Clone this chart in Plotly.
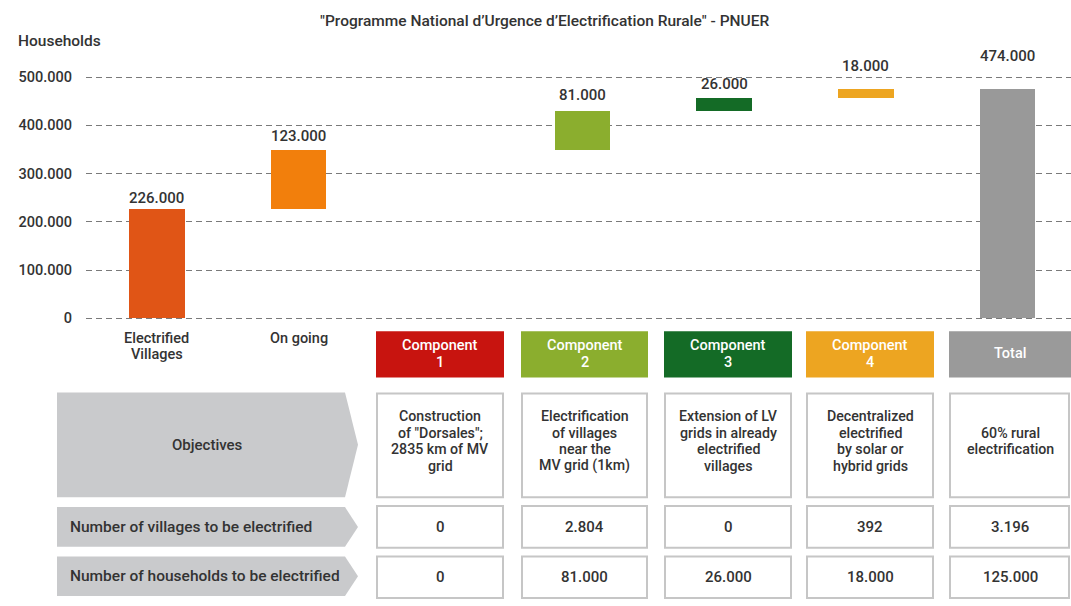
import plotly.graph_objects as go

# ---------------- data ----------------
categories = ["Electrified Villages", "On going", "Component 1", "Component 2",
              "Component 3", "Component 4", "Total"]
category_labels = ["Electrified<br>Villages", "On going", "", "", "", "", ""]
household_values = [226000, 123000, 0, 81000, 26000, 18000, 474000]
is_total = [False, False, False, False, False, False, True]
y_ticks = [0, 100000, 200000, 300000, 400000, 500000]

header_labels = ["Component<br>1", "Component<br>2", "Component<br>3", "Component<br>4", "Total"]
objectives = [
    "Construction<br>of \"Dorsales\";<br>2835 km of MV<br>grid",
    "Electrification<br>of villages<br>near the<br>MV grid (1km)",
    "Extension of LV<br>grids in already<br>electrified<br>villages",
    "Decentralized<br>electrified<br>by solar or<br>hybrid grids",
    "60% rural<br>electrification",
]
villages_to_electrify = ["0", "2.804", "0", "392", "3.196"]
households_to_electrify = ["0", "81.000", "26.000", "18.000", "125.000"]
row_labels = ["Objectives", "Number of villages to be electrified",
              "Number of households to be electrified"]

# ---------------- style ----------------
W, H = 1071, 606
bar_colors = ["#E05516", "#F27F0C", "#C8140F", "#8BAE2E", "#146B26", "#EDA521", "#999999"]
header_colors = ["#C8140F", "#8BAE2E", "#146B26", "#EDA521", "#9A9A9A"]
label_shift = [11, 14, 0, 16, 14, 24, 34]
txt = "#333333"
FONT = "Roboto"
LINE_H = 16.8


def X(px):
    return px / W


def Y(py):
    return 1 - py / H


annotations = []


def multiline(text, cx, cy, size, color, xref="paper", xanchor="center", top=None):
    """Place each line as its own annotation so line spacing is tighter than default."""
    lines = text.split("<br>")
    n = len(lines)
    for k, line in enumerate(lines):
        if top is None:
            py = cy + (k - (n - 1) / 2) * LINE_H
        else:
            py = top + k * LINE_H
        annotations.append(dict(
            x=cx, y=Y(py), xref=xref, yref="paper", text=line,
            showarrow=False, xanchor=xanchor, yanchor="middle", borderpad=0,
            font=dict(family=FONT, size=size, color=color, weight=500),
        ))


# waterfall bases computed from the values
bases = []
running = 0
for v, tot in zip(household_values, is_total):
    if tot:
        bases.append(0)
    else:
        bases.append(running)
        running += v

fig = go.Figure()
fig.add_trace(go.Bar(
    x=categories,
    y=household_values,
    base=bases,
    width=0.39,
    marker=dict(color=bar_colors, line=dict(width=0)),
    hoverinfo="skip",
))

for i, (c, v, b) in enumerate(zip(categories, household_values, bases)):
    if v == 0:
        continue
    annotations.append(dict(
        x=c, y=b + v, xref="x", yref="y", text=f"{v:,}".replace(",", "."),
        showarrow=False, yanchor="middle", yshift=label_shift[i],
        font=dict(family=FONT, size=15, color=txt, weight=500),
    ))

# category labels under the axis
for c, lab in zip(categories, category_labels):
    if lab:
        multiline(lab, c, None, 14.5, txt, xref="x", top=339)

# title and axis title
annotations.append(dict(
    x=X(544), y=Y(18), xref="paper", yref="paper",
    text="\"Programme National d’Urgence d’Electrification Rurale\" - PNUER",
    showarrow=False, xanchor="center", yanchor="middle",
    font=dict(family=FONT, size=15.5, color=txt, weight=500),
))
annotations.append(dict(
    x=X(16), y=Y(38), xref="paper", yref="paper", text="Households",
    showarrow=False, xanchor="left", yanchor="middle",
    font=dict(family=FONT, size=15.5, color=txt, weight=500),
))

shapes = []
col_x = [(376, 504), (521, 648), (664, 792), (806, 934), (949, 1071)]
# header boxes
for (x0, x1), col, lab in zip(col_x, header_colors, header_labels):
    shapes.append(dict(type="rect", xref="paper", yref="paper",
                       x0=X(x0), x1=X(x1), y0=Y(379), y1=Y(332),
                       fillcolor=col, line=dict(width=0), layer="above"))
    multiline(lab, X((x0 + x1) / 2), 355, 14.5, "white")

rows_y = [(394, 501), (508, 552), (559, 603)]
arrow_y = [(394, 500), (510, 550), (560, 600)]
row_text_y = [443, 530, 581]
row_values = [objectives, villages_to_electrify, households_to_electrify]

for r, ((y0, y1), (ay0, ay1), ty, vals) in enumerate(zip(rows_y, arrow_y, row_text_y, row_values)):
    mid = (ay0 + ay1) / 2
    path = (f"M {X(57)},{Y(ay0)} L {X(345)},{Y(ay0)} L {X(358)},{Y(mid)} "
            f"L {X(345)},{Y(ay1)} L {X(57)},{Y(ay1)} Z")
    shapes.append(dict(type="path", xref="paper", yref="paper", path=path,
                       fillcolor="#C9CACC", line=dict(width=0)))
    if r == 0:
        multiline(row_labels[r], X(207), mid, 15, txt)
    else:
        multiline(row_labels[r], X(69), mid, 15.5, txt, xanchor="left")
    for (x0, x1), v in zip(col_x, vals):
        shapes.append(dict(type="rect", xref="paper", yref="paper",
                           x0=X(x0 + 1), x1=X(min(x1, W - 1) - 1), y0=Y(y1 - 1), y1=Y(y0 + 1),
                           fillcolor="white", line=dict(color="#C6C6C6", width=2)))
        multiline(v, X((x0 + x1) / 2), ty, 14.2 if r == 0 else 15, txt)

# y axis: 0 at 319 px, 500.000 at 75 px; range padded so edge gridlines show
pad = 10000
ppu = (319 - 75) / 500000
fig.update_layout(
    width=W, height=H, autosize=False,
    margin=dict(l=0, r=0, t=0, b=0),
    paper_bgcolor="white", plot_bgcolor="white",
    separators=",.",
    showlegend=False,
    bargap=0,
    xaxis=dict(
        domain=[X(86), 1], range=[-0.5, 6.446],
        showticklabels=False,
        showgrid=False, zeroline=False, showline=False, ticks="",
    ),
    yaxis=dict(
        domain=[Y(319 + pad * ppu), Y(75 - pad * ppu)], range=[-pad, 500000 + pad],
        tickvals=y_ticks, tickformat=",d",
        showgrid=True, gridcolor="#7A7A7A", gridwidth=1, griddash="6px,4px",
        zeroline=False, showline=False, ticks="",
        ticklabelstandoff=13,
        tickfont=dict(family=FONT, size=14.5, color=txt, weight=500),
    ),
    shapes=shapes,
    annotations=annotations,
)

fig.write_html(
    "out.html",
    config={"displayModeBar": False},
    post_script="document.body.style.margin='0';document.body.style.overflow='hidden';",
)
